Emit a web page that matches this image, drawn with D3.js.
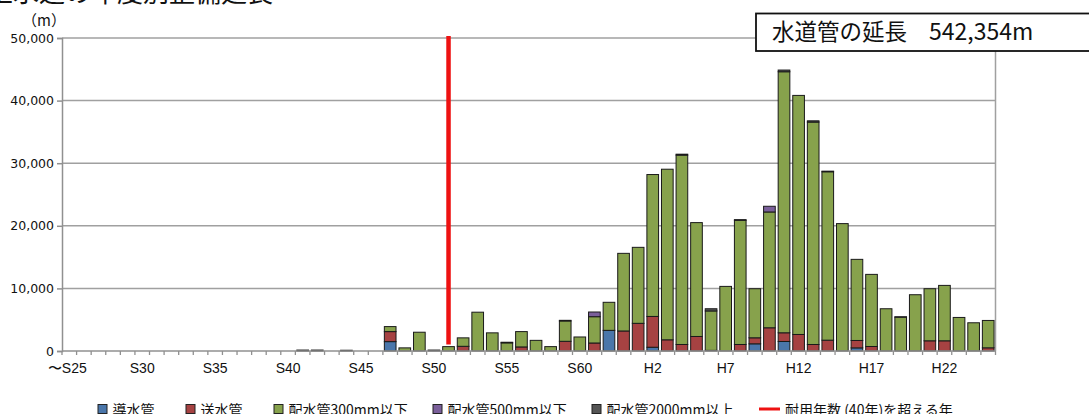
<!DOCTYPE html>
<html><head><meta charset="utf-8">
<script src="https://cdn.jsdelivr.net/npm/d3@7"></script>
<style>
html,body{margin:0;padding:0;background:#fff;}
svg{display:block;}
</style></head>
<body>
<svg id="c" width="1089" height="414"></svg>
<script>
// ---- data ----
const years = [
 "S25","S26","S27","S28","S29","S30","S31","S32","S33","S34",
 "S35","S36","S37","S38","S39","S40","S41","S42","S43","S44",
 "S45","S46","S47","S48","S49","S50","S51","S52","S53","S54",
 "S55","S56","S57","S58","S59","S60","S61","S62","S63","H1",
 "H2","H3","H4","H5","H6","H7","H8","H9","H10","H11",
 "H12","H13","H14","H15","H16","H17","H18","H19","H20","H21",
 "H22","H23","H24","H25"];
const tickLabels = ["〜S25","S30","S35","S40","S45","S50","S55","S60","H2","H7","H12","H17","H22"];
const tickYears  = ["S25","S30","S35","S40","S45","S50","S55","S60","H2","H7","H12","H17","H22"];

const donsui = [ // 導水管
 0,0,0,0,0,0,0,0,0,0, 0,0,0,0,0,0,0,0,0,0,
 0,0,1500,0,0,0,0,0,0,0, 0,0,0,0,0,0,0,3300,0,0,
 600,0,0,0,0,0,0,1150,0,1520, 0,0,0,0,500,0,0,0,0,0,
 0,0,0,0];
const sousui = [ // 送水管
 0,0,0,0,0,0,0,0,0,0, 0,0,0,0,0,0,0,0,0,0,
 0,0,1600,0,0,0,0,750,0,0, 0,650,0,0,1550,0,1280,0,3200,4420,
 4920,1790,1040,2320,100,0,1040,960,3710,1390, 2640,1040,1730,0,1180,720,0,0,0,1630,
 1630,0,0,510];
const hai300 = [ // 配水管300mm以下
 0,0,0,0,0,0,0,0,0,0, 0,0,0,0,0,0,150,150,0,120,
 0,0,800,500,3000,150,700,1350,6200,2900, 1300,2450,1700,700,3250,2240,4200,4480,12400,12140,
 22670,27250,30250,18190,6300,10320,19840,7840,18500,41700, 38190,35530,26900,20350,12960,11520,6750,5400,8990,8320,
 8850,5360,4510,4370];
const hai500 = [ // 配水管500mm以下
 0,0,0,0,0,0,0,0,0,0, 0,0,0,0,0,0,0,0,0,0,
 0,0,0,0,0,0,0,0,0,0, 0,0,0,0,0,0,750,0,0,0,
 0,0,0,0,0,0,0,0,910,0, 0,0,0,0,0,0,0,0,0,0,
 0,0,0,0];
const hai2000 = [ // 配水管2000mm以上
 0,0,0,0,0,0,0,0,0,0, 0,0,0,0,0,0,0,0,0,0,
 0,0,0,0,0,0,0,0,0,0, 100,0,0,0,100,0,0,0,0,0,
 0,0,150,0,350,0,100,0,0,270, 0,200,100,0,0,0,0,70,0,0,
 0,0,0,0];
const seriesNames = ["導水管","送水管","配水管300mm以下","配水管500mm以下","配水管2000mm以上"];
const seriesColors = ["#4a76aa","#a64242","#87a24c","#7a5f9a","#555555"];
const lineLegend = "耐用年数 (40年)を超える年";
const exceedYear = "S51";
const yTicks = [0,10000,20000,30000,40000,50000];
const titleText = "上水道の年度別整備延長";
const unitText = "（m）";
const totalLabel = "水道管の延長";
const totalValue = "542,354m";

// ---- chart ----
const svg = d3.select("#c");
const L = 62, R = 995.5, T = 38, B = 351;
const x = d3.scaleBand().domain(years).range([L, R]).paddingInner(0.2).paddingOuter(0.1);
const y = d3.scaleLinear().domain([0, 50000]).range([B, T]);

const rows = years.map((yr, i) => ({year: yr, v: [donsui[i], sousui[i], hai300[i], hai500[i], hai2000[i]]}));
const keys = [0,1,2,3,4];
const stack = d3.stack().keys(keys).value((d, k) => d.v[k]);
const stacked = stack(rows);

// gridlines
svg.append("g").selectAll("line").data(yTicks.filter(d => d > 0)).join("line")
  .attr("x1", L).attr("x2", R).attr("y1", d => y(d)).attr("y2", d => y(d))
  .attr("stroke", "#a0a0a0").attr("stroke-width", 1.5);
// right border
svg.append("line").attr("x1", R).attr("x2", R).attr("y1", T).attr("y2", B)
  .attr("stroke", "#a0a0a0").attr("stroke-width", 1.5);

// bars
svg.append("g").selectAll("g").data(stacked).join("g")
  .attr("fill", (d, i) => seriesColors[i])
  .selectAll("rect").data(d => d.filter(s => s[1] - s[0] > 0)).join("rect")
  .attr("x", d => x(d.data.year))
  .attr("width", x.bandwidth())
  .attr("y", d => y(d[1]))
  .attr("height", d => y(d[0]) - y(d[1]))
  .attr("stroke", "#1a1a1a").attr("stroke-width", 1);

// y axis
const yAxis = d3.axisLeft(y).tickValues(yTicks).tickFormat(d3.format(",")).tickSize(5).tickPadding(3);
const gy = svg.append("g").attr("transform", `translate(${L},0)`).call(yAxis);
gy.select(".domain").attr("stroke", "#909090").attr("stroke-width", 1.5);
gy.selectAll(".tick line").attr("stroke", "#909090").attr("stroke-width", 1.5);
gy.selectAll("text").attr("font-family", "DejaVu Sans, sans-serif").attr("font-size", 12.5).attr("fill", "#111");

// x axis (labels)
const labelMap = new Map(tickYears.map((t, i) => [t, tickLabels[i]]));
const xAxis = d3.axisBottom(x).tickValues(tickYears).tickFormat(d => labelMap.get(d)).tickSize(0).tickPadding(12);
const gx = svg.append("g").attr("transform", `translate(0,${B})`).call(xAxis);
gx.select(".domain").remove();
gx.selectAll("text").attr("font-family", "'Liberation Sans', Arial, sans-serif")
  .attr("font-size", 14).attr("fill", "#111");
gx.selectAll(".tick").filter(d => d === tickYears[0]).select("text").attr("dx", -2);
// bottom axis line and boundary ticks
svg.append("line").attr("x1", L).attr("x2", R).attr("y1", B).attr("y2", B)
  .attr("stroke", "#909090").attr("stroke-width", 1.5);
const step = x.step();
const bounds = years.map(yr => x(yr) - step * 0.1).concat([R]);
svg.append("g").selectAll("line").data(bounds).join("line")
  .attr("x1", d => d).attr("x2", d => d).attr("y1", B).attr("y2", B + 4)
  .attr("stroke", "#909090").attr("stroke-width", 1.3);

// exceed line
const ei = years.indexOf(exceedYear);
const eTop = d3.sum(rows[ei].v);
svg.append("line")
  .attr("x1", x(exceedYear) + x.bandwidth() / 2).attr("x2", x(exceedYear) + x.bandwidth() / 2)
  .attr("y1", y(50000) - 2).attr("y2", y(eTop) - 2)
  .attr("stroke", "#ee1111").attr("stroke-width", 4.5);

// title (cut off at top)
svg.append("text").attr("x", -13).attr("y", 2).text(titleText)
  .attr("font-family", "'Noto Sans CJK JP', sans-serif").attr("font-size", 26).attr("fill", "#111");
svg.append("text").attr("x", 22).attr("y", 26).text(unitText)
  .attr("font-family", "'Noto Sans CJK JP', sans-serif").attr("font-size", 15).attr("fill", "#111");

// total box
svg.append("rect").attr("x", 756).attr("y", 13.5).attr("width", 345).attr("height", 37.5)
  .attr("fill", "#fff").attr("stroke", "#111").attr("stroke-width", 1.8);
svg.append("text").attr("x", 772).attr("y", 39.5).text(totalLabel)
  .attr("font-family", "'Noto Sans CJK JP', sans-serif").attr("font-size", 22.5).attr("fill", "#111");
svg.append("text").attr("x", 929).attr("y", 39.5).text(totalValue)
  .attr("font-family", "'Noto Sans CJK JP', sans-serif").attr("font-size", 23).attr("fill", "#111");

// legend
const legX = [98, 186, 274, 433, 592];
const lg = svg.append("g");
seriesNames.forEach((n, i) => {
  lg.append("rect").attr("x", legX[i]).attr("y", 404.5).attr("width", 9).attr("height", 9)
    .attr("fill", seriesColors[i]).attr("stroke", "#222").attr("stroke-width", 1);
  lg.append("text").attr("x", legX[i] + 14.5).attr("y", 415).text(n)
    .attr("font-family", "'Noto Sans CJK JP', sans-serif").attr("font-size", 14).attr("fill", "#111");
});
lg.append("line").attr("x1", 759).attr("x2", 780).attr("y1", 409).attr("y2", 409)
  .attr("stroke", "#ee1111").attr("stroke-width", 3);
lg.append("text").attr("x", 785).attr("y", 415).text(lineLegend)
  .attr("font-family", "'Noto Sans CJK JP', sans-serif").attr("font-size", 14).attr("fill", "#111");
</script>
</body></html>
